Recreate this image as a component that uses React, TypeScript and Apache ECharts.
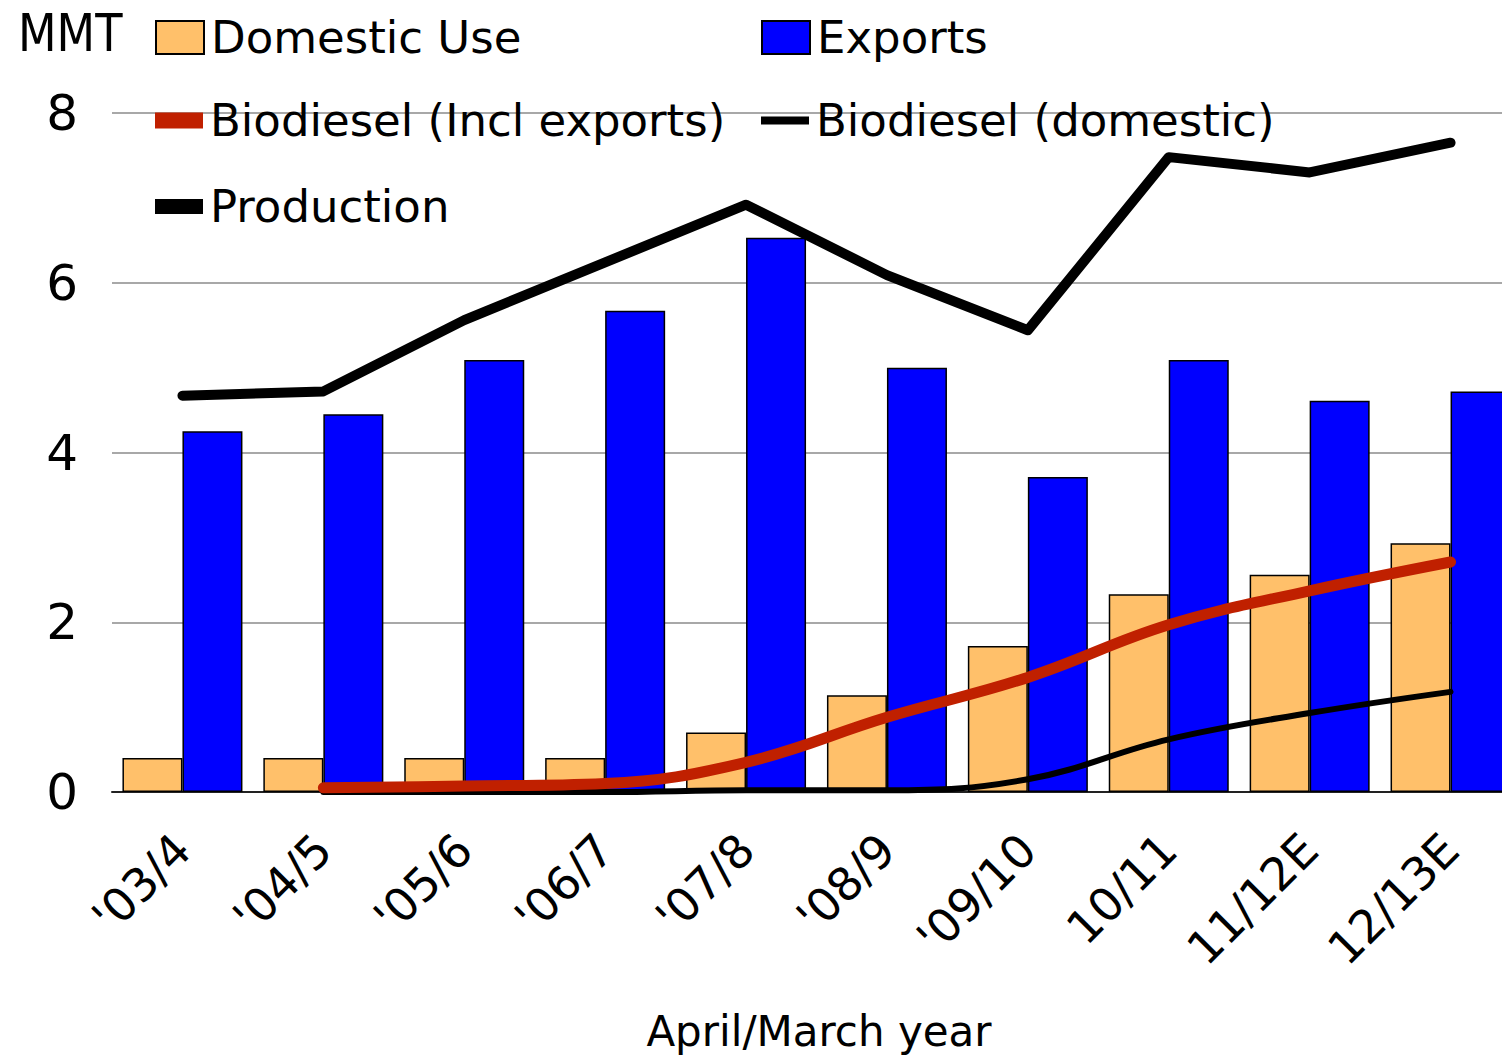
import React, { useEffect, useRef } from "react";
import * as echarts from "echarts";

const categories = ["'03/4", "'04/5", "'05/6", "'06/7", "'07/8", "'08/9", "'09/10", "10/11", "11/12E", "12/13E"];
const domesticUse = [0.4, 0.4, 0.4, 0.4, 0.7, 1.14, 1.72, 2.33, 2.56, 2.93];
const exportsVals = [4.25, 4.45, 5.09, 5.67, 6.53, 5.0, 3.71, 5.09, 4.61, 4.72];
const production = [4.67, 4.72, 5.56, 6.24, 6.92, 6.09, 5.44, 7.48, 7.3, 7.65];
const biodieselIncl = [null, 0.05, 0.07, 0.1, 0.35, 0.88, 1.35, 1.97, 2.37, 2.71];
const biodieselDomestic = [null, 0, 0, 0, 0.02, 0.02, 0.15, 0.62, 0.93, 1.18];
const yTicks = { min: 0, max: 8, interval: 2 };

const FONT = "DejaVu Sans";
const ORANGE = "#FFC06A";
const BLUE = "#0000FF";
const RED = "#C02000";

function legendItem(name: string, left: number, top: number, w: number, h: number) {
  return {
    data: [{ name, icon: "rect" }],
    left,
    top,
    itemWidth: w,
    itemHeight: h,
    padding: 0,
    selectedMode: false,
    textStyle: { fontFamily: FONT, fontSize: 45, color: "#000", padding: [0, 0, 0, 2] },
  };
}

export default function App() {
  const ref = useRef<HTMLDivElement>(null);
  useEffect(() => {
    if (!ref.current) return;
    const chart = echarts.init(ref.current, undefined, { renderer: "svg" });
    chart.setOption({
      animation: false,
      backgroundColor: "#fff",
      grid: { left: 112, top: 113, width: 1409, height: 679, containLabel: false },
      legend: [
        legendItem("Domestic Use", 155, 15, 48, 33),
        legendItem("Exports", 761, 15, 48, 33),
        legendItem("Biodiesel (Incl exports)", 155, 98, 48, 16),
        legendItem("Biodiesel (domestic)", 761, 98, 48, 8),
        legendItem("Production", 155, 184, 48, 15),
      ],
      graphic: [
        {
          type: "text",
          x: 18,
          y: 33,
          scaleX: 0.86,
          style: { text: "MMT", fontFamily: FONT, fontSize: 52, fill: "#000", textAlign: "left", textVerticalAlign: "middle" },
        },
        {
          type: "text",
          x: 819,
          y: 1031,
          style: { text: "April/March year", fontFamily: FONT, fontSize: 42, fill: "#000", textAlign: "center", textVerticalAlign: "middle" },
        },
      ],
      xAxis: {
        type: "category",
        data: categories,
        axisLine: { lineStyle: { color: "#222", width: 2 } },
        axisTick: { show: false },
        axisLabel: { rotate: 45, interval: 0, fontFamily: FONT, fontSize: 46, color: "#000", margin: 50 },
      },
      yAxis: {
        type: "value",
        min: yTicks.min,
        max: yTicks.max,
        interval: yTicks.interval,
        axisLine: { show: false },
        axisTick: { show: false },
        axisLabel: { fontFamily: FONT, fontSize: 50, color: "#000", margin: 34 },
        splitLine: { lineStyle: { color: "#A8A8A8", width: 2 } },
      },
      series: [
        {
          name: "Domestic Use",
          type: "bar",
          data: domesticUse,
          barWidth: 60,
          barGap: "0%",
          itemStyle: { color: ORANGE, borderColor: "#000", borderWidth: 1.5 },
        },
        {
          name: "Exports",
          type: "bar",
          data: exportsVals,
          barWidth: 60,
          barGap: "0%",
          itemStyle: { color: BLUE, borderColor: "#000", borderWidth: 1.5 },
        },
        {
          name: "Biodiesel (domestic)",
          type: "line",
          data: biodieselDomestic,
          symbol: "none",
          smooth: 0.4,
          itemStyle: { color: "#000" },
          lineStyle: { color: "#000", width: 6, cap: "round", join: "round" },
          z: 3,
        },
        {
          name: "Biodiesel (Incl exports)",
          type: "line",
          data: biodieselIncl,
          symbol: "none",
          smooth: 0.4,
          itemStyle: { color: RED },
          lineStyle: { color: RED, width: 11, cap: "round", join: "round" },
          z: 4,
        },
        {
          name: "Production",
          type: "line",
          data: production,
          symbol: "none",
          itemStyle: { color: "#000" },
          lineStyle: { color: "#000", width: 10, cap: "round", join: "round" },
          z: 5,
        },
      ],
    });
    return () => chart.dispose();
  }, []);
  return (
    <div style={{ position: "absolute", left: 0, top: 0, width: 1502, height: 1056, overflow: "hidden" }}>
      <div ref={ref} style={{ width: 1522, height: 1056 }} />
    </div>
  );
}
